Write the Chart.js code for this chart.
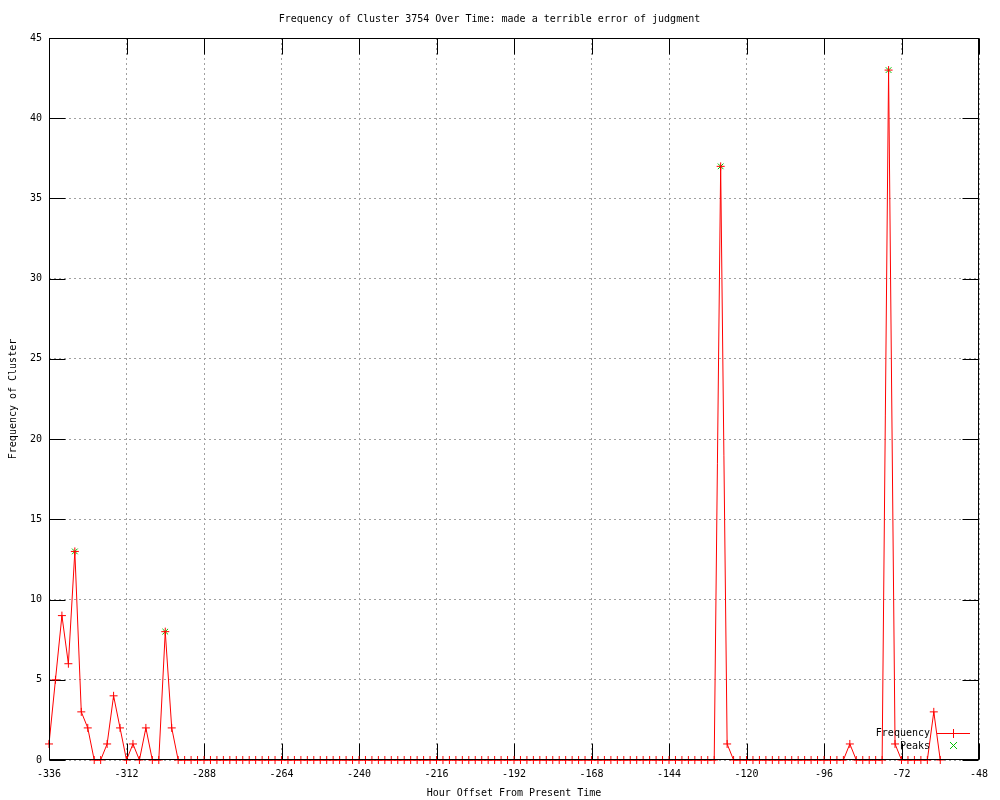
<!DOCTYPE html>
<html>
<head>
<meta charset="utf-8">
<title>Frequency of Cluster 3754</title>
<script src="https://cdn.jsdelivr.net/npm/chart.js@4.4.1/dist/chart.umd.min.js"></script>
<style>
  html, body { margin: 0; padding: 0; background: #fff; }
  #wrap { width: 1000px; height: 800px; }
</style>
</head>
<body>
<div id="wrap"><canvas id="chart" width="1000" height="800"></canvas></div>
<script>
// hours, every 2 hours
const hours = [
  -336, -334, -332, -330, -328, -326, -324, -322, -320, -318, -316, -314,
  -312, -310, -308, -306, -304, -302, -300, -298, -296, -294, -292, -290,
  -288, -286, -284, -282, -280, -278, -276, -274, -272, -270, -268, -266,
  -264, -262, -260, -258, -256, -254, -252, -250, -248, -246, -244, -242,
  -240, -238, -236, -234, -232, -230, -228, -226, -224, -222, -220, -218,
  -216, -214, -212, -210, -208, -206, -204, -202, -200, -198, -196, -194,
  -192, -190, -188, -186, -184, -182, -180, -178, -176, -174, -172, -170,
  -168, -166, -164, -162, -160, -158, -156, -154, -152, -150, -148, -146,
  -144, -142, -140, -138, -136, -134, -132, -130, -128, -126, -124, -122,
  -120, -118, -116, -114, -112, -110, -108, -106, -104, -102, -100, -98,
  -96, -94, -92, -90, -88, -86, -84, -82, -80, -78, -76, -74,
  -72, -70, -68, -66, -64, -62, -60
];
const frequency = [
  1, 5, 9, 6, 13, 3, 2, 0, 0, 1, 4, 2,
  0, 1, 0, 2, 0, 0, 8, 2, 0, 0, 0, 0,
  0, 0, 0, 0, 0, 0, 0, 0, 0, 0, 0, 0,
  0, 0, 0, 0, 0, 0, 0, 0, 0, 0, 0, 0,
  0, 0, 0, 0, 0, 0, 0, 0, 0, 0, 0, 0,
  0, 0, 0, 0, 0, 0, 0, 0, 0, 0, 0, 0,
  0, 0, 0, 0, 0, 0, 0, 0, 0, 0, 0, 0,
  0, 0, 0, 0, 0, 0, 0, 0, 0, 0, 0, 0,
  0, 0, 0, 0, 0, 0, 0, 0, 37, 1, 0, 0,
  0, 0, 0, 0, 0, 0, 0, 0, 0, 0, 0, 0,
  0, 0, 0, 0, 1, 0, 0, 0, 0, 0, 43, 1,
  0, 0, 0, 0, 0, 3, 0
];
const peakHours = [-328, -300, -128, -76];
const peakValues = [13, 8, 37, 43];

const xTicks = [-336, -312, -288, -264, -240, -216, -192, -168, -144, -120, -96, -72, -48];
const yTicks = [0, 5, 10, 15, 20, 25, 30, 35, 40, 45];

const FONT = { family: "'DejaVu Sans Mono', 'Liberation Mono', monospace", size: 10 };
const RED = '#ff0000';
const GREEN = '#00c000';

const freqPoints = hours.map((h, i) => ({ x: h, y: frequency[i] }));
const peakPoints = peakHours.map((h, i) => ({ x: h, y: peakValues[i] }));

function frameBox(chart) {
  const a = chart.chartArea;
  return {
    L: Math.round(a.left) + 0.5, R: Math.round(a.right) - 0.5,
    T: Math.round(a.top) + 0.5, B: Math.round(a.bottom) - 0.5
  };
}

// gnuplot-like frame: inward ticks on all four sides, black border on top of data
const framePlugin = {
  id: 'frame',
  beforeDatasetsDraw(chart) {
    const { ctx, scales } = chart;
    const { L, R, T, B } = frameBox(chart);
    const len = 16;
    ctx.save();
    ctx.strokeStyle = '#000';
    ctx.lineWidth = 1;
    ctx.setLineDash([]);
    ctx.beginPath();
    xTicks.forEach(v => {
      const px = Math.round(scales.x.getPixelForValue(v)) + 0.5;
      ctx.moveTo(px, B); ctx.lineTo(px, B - len);
      ctx.moveTo(px, T); ctx.lineTo(px, T + len);
    });
    yTicks.forEach(v => {
      const py = Math.round(scales.y.getPixelForValue(v)) + 0.5;
      ctx.moveTo(L, py); ctx.lineTo(L + len, py);
      ctx.moveTo(R, py); ctx.lineTo(R - len, py);
    });
    ctx.stroke();
    ctx.restore();
  },
  afterDatasetsDraw(chart) {
    const { ctx } = chart;
    const { L, R, T, B } = frameBox(chart);
    ctx.save();
    ctx.setLineDash([]);
    ctx.globalAlpha = 1;
    ctx.strokeStyle = '#000';
    ctx.lineWidth = 1;
    ctx.strokeRect(L, T, R - L, B - T);

    // key in the lower right
    ctx.font = FONT.size + 'px ' + FONT.family;
    ctx.fillStyle = '#000';
    ctx.textAlign = 'right';
    ctx.textBaseline = 'middle';
    ctx.fillText('Frequency', 930, 733);
    ctx.fillText('Peaks', 930, 746);
    ctx.strokeStyle = RED;
    ctx.beginPath();
    ctx.moveTo(937, 733.5); ctx.lineTo(970, 733.5);
    ctx.moveTo(953.5, 729); ctx.lineTo(953.5, 738);
    ctx.stroke();
    ctx.strokeStyle = GREEN;
    ctx.beginPath();
    ctx.moveTo(950, 742); ctx.lineTo(957, 749);
    ctx.moveTo(957, 742); ctx.lineTo(950, 749);
    ctx.stroke();
    ctx.restore();
  }
};

const gridOpts = {
  color: '#a0a0a0',
  lineWidth: 1,
  drawTicks: false
};

new Chart(document.getElementById('chart'), {
  type: 'scatter',
  data: {
    datasets: [
      {
        label: 'Peaks',
        data: peakPoints,
        showLine: false,
        clip: false,
        pointStyle: 'crossRot',
        pointRadius: 4,
        pointBorderWidth: 1,
        pointBorderColor: GREEN,
        pointBackgroundColor: GREEN,
        order: 1
      },
      {
        label: 'Frequency',
        data: freqPoints,
        showLine: true,
        clip: false,
        borderColor: RED,
        borderWidth: 1,
        tension: 0,
        pointStyle: 'cross',
        pointRadius: 4,
        pointBorderWidth: 1,
        pointBorderColor: RED,
        pointBackgroundColor: RED,
        order: 0
      }
    ]
  },
  options: {
    responsive: false,
    animation: false,
    devicePixelRatio: 1,
    layout: { padding: { left: 0, right: 21, top: 0, bottom: 0 } },
    plugins: {
      legend: { display: false },
      tooltip: { enabled: false },
      title: {
        display: true,
        text: 'Frequency of Cluster 3754 Over Time: made a terrible error of judgment',
        color: '#000',
        font: { ...FONT, weight: 'normal' },
        padding: { top: 13, bottom: 13 }
      }
    },
    scales: {
      x: {
        type: 'linear',
        min: -336,
        max: -48,
        afterBuildTicks: scale => { scale.ticks = xTicks.map(v => ({ value: v })); },
        afterFit: scale => { scale.height = 40; },
        ticks: {
          color: '#000',
          font: FONT,
          padding: 8,
          maxRotation: 0,
          autoSkip: false,
          callback: v => String(v)
        },
        grid: { ...gridOpts },
        border: { display: false, dash: [2, 3] },
        title: {
          display: true,
          text: 'Hour Offset From Present Time',
          color: '#000',
          font: FONT,
          padding: { top: 0, bottom: 1 }
        }
      },
      y: {
        min: 0,
        max: 45,
        afterBuildTicks: scale => { scale.ticks = yTicks.map(v => ({ value: v })); },
        afterFit: scale => { scale.width = 49; },
        ticks: {
          color: '#000',
          font: FONT,
          padding: 7,
          callback: v => String(v)
        },
        grid: { ...gridOpts },
        border: { display: false, dash: [2, 3] },
        title: {
          display: true,
          text: 'Frequency of Cluster',
          color: '#000',
          font: FONT,
          padding: { top: 7, bottom: 0 }
        }
      }
    }
  },
  plugins: [framePlugin]
});
</script>
</body>
</html>
